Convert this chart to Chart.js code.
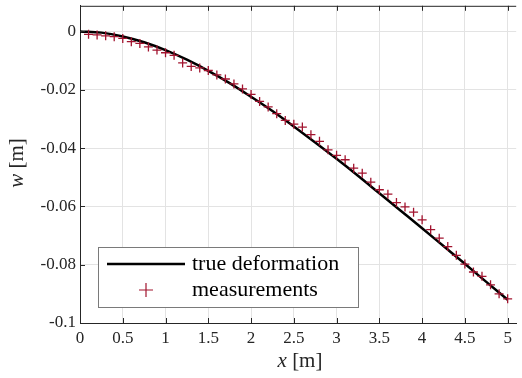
<!DOCTYPE html>
<html>
<head>
<meta charset="utf-8">
<script src="https://cdn.jsdelivr.net/npm/chart.js@4/dist/chart.umd.min.js"></script>
<style>
    html, body { margin: 0; padding: 0; background: #fff; }
    #wrap { width: 522px; height: 378px; }
</style>
</head>
<body>
<div id="wrap"><canvas id="chart"></canvas></div>
<script>
// True deformation curve
const xTrue = [0, 0.25, 0.5, 0.75, 1, 1.25, 1.5, 1.75, 2, 2.25, 2.5, 2.75, 3, 3.25, 3.5, 3.75, 4, 4.25, 4.5, 4.75, 5];
const wTrue = [0, -0.0004, -0.0017, -0.0037, -0.0064, -0.0097, -0.0135, -0.0177, -0.0224, -0.0273, -0.0326,
    -0.0381, -0.0437, -0.0495, -0.0555, -0.0615, -0.0675, -0.0736, -0.0797, -0.0859, -0.0920];

// Measurements
const xMeas = [0.1, 0.2, 0.3, 0.4, 0.5, 0.6, 0.7, 0.8, 0.9, 1.0,
    1.1, 1.2, 1.3, 1.4, 1.5, 1.6, 1.7, 1.8, 1.9, 2.0,
    2.1, 2.2, 2.3, 2.4, 2.5, 2.6, 2.7, 2.8, 2.9, 3.0,
    3.1, 3.2, 3.3, 3.4, 3.5, 3.6, 3.7, 3.8, 3.9, 4.0,
    4.1, 4.2, 4.3, 4.4, 4.5, 4.6, 4.7, 4.8, 4.9, 5.0];
const wMeas = [-0.0010, -0.0012, -0.0015, -0.0018, -0.0024, -0.0035, -0.0041, -0.0053, -0.0064, -0.0073,
    -0.0082, -0.0108, -0.0120, -0.0125, -0.0134, -0.0149, -0.0163, -0.0180, -0.0197, -0.0216,
    -0.0240, -0.0259, -0.0282, -0.0305, -0.0318, -0.0328, -0.0354, -0.0377, -0.0406, -0.0425,
    -0.0440, -0.0469, -0.0486, -0.0517, -0.0543, -0.0558, -0.0587, -0.0602, -0.0620, -0.0646,
    -0.0680, -0.0709, -0.0738, -0.0768, -0.0798, -0.0825, -0.0840, -0.0869, -0.0900, -0.0917];

// Tick positions
const xTicks = [0, 0.5, 1, 1.5, 2, 2.5, 3, 3.5, 4, 4.5, 5];
const yTicks = [-0.1, -0.08, -0.06, -0.04, -0.02, 0];

const legendLabels = ['true deformation', 'measurements'];
const measColor = '#A2142F';
const serif = "'Liberation Serif', 'Times New Roman', serif";

function fmt(v) {
    return String(Math.round(v * 1000) / 1000);
}

// fixed axis size, no extra padding for overhanging labels
function fixSize(prop, size) {
    return scale => {
        scale[prop] = size;
        scale.paddingTop = 0;
        scale.paddingBottom = 0;
        scale.paddingLeft = 0;
        scale.paddingRight = 0;
    };
}

// Box, inner ticks, axis titles and legend
const decorations = {
    id: 'decorations',
    afterDraw(chart) {
        const ctx = chart.ctx;
        const a = chart.chartArea;
        const xs = chart.scales.x;
        const ys = chart.scales.y;
        ctx.save();

        // inner tick marks
        ctx.strokeStyle = '#262626';
        ctx.lineWidth = 1;
        ctx.beginPath();
        xTicks.forEach(v => {
            const px = Math.round(xs.getPixelForValue(v)) + 0.5;
            ctx.moveTo(px, a.bottom);
            ctx.lineTo(px, a.bottom - 5);
            ctx.moveTo(px, a.top);
            ctx.lineTo(px, a.top + 5);
        });
        yTicks.forEach(v => {
            const py = Math.round(ys.getPixelForValue(v)) + 0.5;
            ctx.moveTo(a.left, py);
            ctx.lineTo(a.left + 5, py);
        });
        ctx.stroke();

        // top border
        ctx.beginPath();
        ctx.moveTo(a.left, a.top + 0.5);
        ctx.lineTo(a.right, a.top + 0.5);
        ctx.stroke();

        // x axis title
        ctx.fillStyle = '#262626';
        ctx.textBaseline = 'middle';
        drawMixed(ctx, 300, 361, [['italic 21px ' + serif, 'x'], ['21px ' + serif, ' [m]']]);

        // y axis title
        ctx.save();
        ctx.translate(17, 163);
        ctx.rotate(-Math.PI / 2);
        drawMixed(ctx, 0, 0, [['italic 21px ' + serif, 'w'], ['21px ' + serif, ' [m]']]);
        ctx.restore();

        // legend
        const lx = 98, ly = 247, lw = 260, lh = 60;
        ctx.fillStyle = '#fff';
        ctx.fillRect(lx, ly, lw, lh);
        ctx.strokeStyle = '#7a7a7a';
        ctx.strokeRect(lx + 0.5, ly + 0.5, lw, lh);

        ctx.strokeStyle = '#000';
        ctx.lineWidth = 2.5;
        ctx.beginPath();
        ctx.moveTo(107, 264);
        ctx.lineTo(185, 264);
        ctx.stroke();

        ctx.strokeStyle = measColor;
        ctx.lineWidth = 1.2;
        ctx.beginPath();
        ctx.moveTo(139, 290);
        ctx.lineTo(153, 290);
        ctx.moveTo(146, 283);
        ctx.lineTo(146, 297);
        ctx.stroke();

        ctx.fillStyle = '#000';
        ctx.font = '22px ' + serif;
        ctx.textAlign = 'left';
        ctx.fillText(legendLabels[0], 192, 264);
        ctx.fillText(legendLabels[1], 192, 290);

        ctx.restore();
    }
};

function drawMixed(ctx, cx, cy, parts) {
    let total = 0;
    parts.forEach(p => {
        ctx.font = p[0];
        total += ctx.measureText(p[1]).width;
    });
    let x = cx - total / 2;
    ctx.textAlign = 'left';
    parts.forEach(p => {
        ctx.font = p[0];
        ctx.fillText(p[1], x, cy);
        x += ctx.measureText(p[1]).width;
    });
}

const ctx = document.getElementById('chart').getContext('2d');
new Chart(ctx, {
    type: 'scatter',
    data: {
        datasets: [{
            label: legendLabels[0],
            data: xTrue.map((x, i) => ({ x: x, y: wTrue[i] })),
            showLine: true,
            borderColor: '#000',
            borderWidth: 2.5,
            pointRadius: 0,
            cubicInterpolationMode: 'monotone',
            order: 2
        }, {
            label: legendLabels[1],
            data: xMeas.map((x, i) => ({ x: x, y: wMeas[i] })),
            showLine: false,
            pointStyle: 'cross',
            pointRadius: 4.5,
            borderColor: measColor,
            backgroundColor: measColor,
            borderWidth: 1.3,
            order: 1
        }]
    },
    options: {
        responsive: true,
        maintainAspectRatio: false,
        animation: false,
        layout: { padding: 0 },
        plugins: {
            legend: { display: false },
            tooltip: { enabled: false }
        },
        scales: {
            x: {
                type: 'linear',
                min: 0,
                max: 5.1,
                afterBuildTicks: scale => { scale.ticks = xTicks.map(v => ({ value: v })); },
                afterFit: fixSize('height', 55),
                ticks: {
                    callback: v => fmt(v),
                    color: '#262626',
                    font: { family: serif, size: 17 },
                    padding: 5,
                    maxRotation: 0,
                    autoSkip: false
                },
                grid: { color: '#e3e3e3', drawTicks: false },
                border: { color: '#262626', width: 1 }
            },
            y: {
                type: 'linear',
                min: -0.1,
                max: 0.0088,
                afterBuildTicks: scale => { scale.ticks = yTicks.map(v => ({ value: v })); },
                afterFit: fixSize('width', 80),
                ticks: {
                    callback: v => fmt(v),
                    color: '#262626',
                    font: { family: serif, size: 17 },
                    padding: 4,
                    autoSkip: false
                },
                grid: { color: '#e3e3e3', drawTicks: false },
                border: { color: '#262626', width: 1 }
            }
        }
    },
    plugins: [decorations]
});
</script>
</body>
</html>
